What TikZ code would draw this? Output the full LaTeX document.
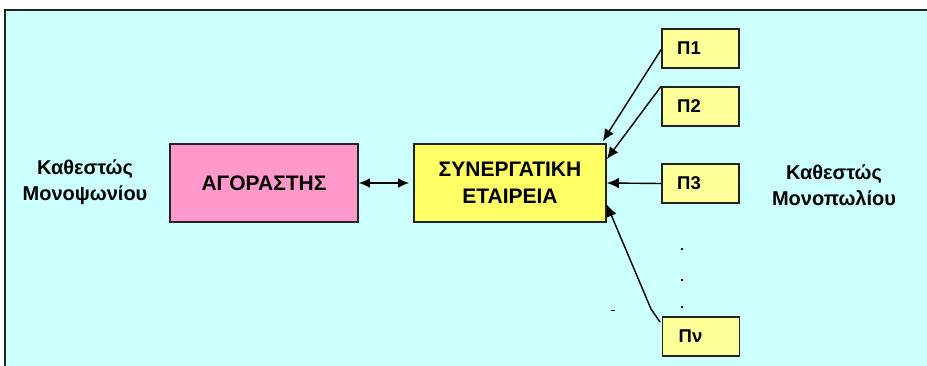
\documentclass[tikz,border=0pt]{standalone}
\usepackage{fontspec}
\setmainfont{Liberation Sans}
\usetikzlibrary{arrows.meta,calc}
\definecolor{bgcyan}{HTML}{CCFFFF}
\definecolor{pinkbox}{HTML}{FF99CC}
\definecolor{yelbox}{HTML}{FFFF66}
\definecolor{palebox}{HTML}{FFFF99}
\definecolor{edge}{HTML}{222222}
\tikzset{
  bigbox/.style={draw=edge, line width=1.6pt, minimum width=188pt, minimum height=78pt, inner sep=0pt, align=center, font=\fontsize{21}{27}\selectfont\bfseries},
  pbox/.style={draw=edge, line width=1.6pt, fill=palebox, minimum width=77pt, minimum height=39pt, inner sep=0pt, font=\fontsize{18.5}{20}\selectfont\bfseries},
  sidelabel/.style={align=center, font=\fontsize{20}{25.5}\selectfont\bfseries},
  conn/.style={line width=1.4pt, draw=black, -{Latex[length=12pt,width=10.5pt]}},
  dotmark/.style={fill=black, inner sep=0pt, minimum size=2.8pt}
}
\begin{document}
\begin{tikzpicture}[x=1pt,y=-1pt]
\useasboundingbox (0,0) rectangle (927,366);
\fill[white] (0,0) rectangle (927,366);
\fill[bgcyan] (5,10) rectangle (927,366);
\draw[edge, line width=1.6pt] (5,366) -- (5,10) -- (927,10);

\node[bigbox, fill=pinkbox] (ag) at (264,183) {ΑΓΟΡΑΣΤΗΣ};
\node[bigbox, fill=yelbox, minimum width=192pt] (syn) at (510,183) {ΣΥΝΕΡΓΑΤΙΚΗ\\ΕΤΑΙΡΕΙΑ};

\node[pbox] (p1) at (700.5,48.5) {\hspace*{-23pt}Π1};
\node[pbox] (p2) at (700.5,106.5) {\hspace*{-23pt}Π2};
\node[pbox] (p3) at (700.5,183.5) {\hspace*{-23pt}Π3};
\node[pbox] (pn) at (701,336.5) {\hspace*{-21pt}Πν};

\node[sidelabel] (left) at (85,182) {Καθεστώς\\Μονοψωνίου};
\node[sidelabel] (right) at (834,185) {Καθεστώς\\Μονοπωλίου};

\node[dotmark] (d1) at (682,249) {};
\node[dotmark] (d2) at (682,280) {};
\node[dotmark] (d3) at (682,307) {};
\draw[black, line width=1pt] (611,311) coordinate (dashA) -- (615,311) coordinate (dashB);

\draw[line width=1.4pt, {Latex[length=11pt,width=9.5pt]}-{Latex[length=11pt,width=9.5pt]}] (ag.east) -- ([xshift=-4pt]syn.west);

\coordinate (t1) at ([xshift=-4pt,yshift=2pt]syn.north east);
\coordinate (t2) at ($(syn.north east)!0.2!(syn.south east)$);
\coordinate (t4) at ($(syn.north east)!0.77!(syn.south east)$);
\coordinate (n1) at (660,322);
\coordinate (n2) at (651,309);

\draw[conn] ([yshift=-1pt]p1.west) -- (t1);
\draw[conn] (p2.north west) -- (t2);
\draw[conn] (p3.west) -- (syn.east);
\draw[conn] (n1) -- (n2) -- (t4);
\end{tikzpicture}
\end{document}
